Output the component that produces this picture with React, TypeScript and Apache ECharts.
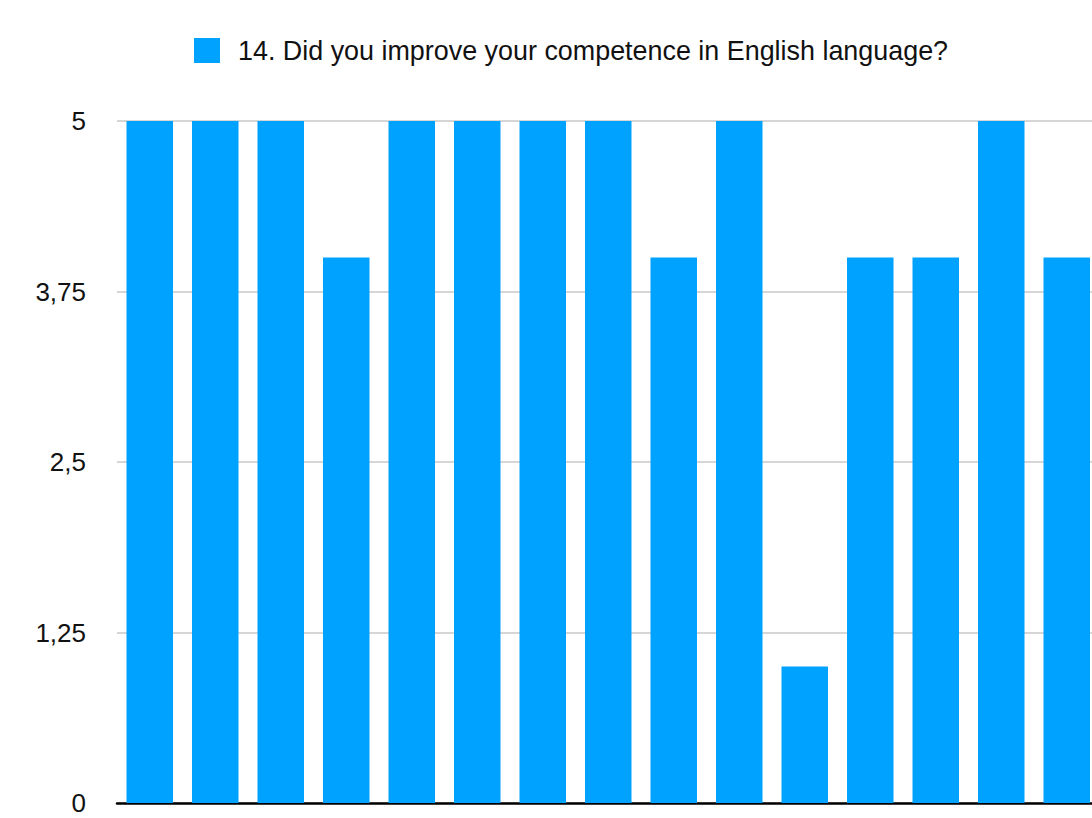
import React, { useEffect, useRef } from "react";
import * as echarts from "echarts";

const categories = ["1","2","3","4","5","6","7","8","9","10","11","12","13","14","15"];
const seriesName = "14. Did you improve your competence in English language?";
const values = [5, 5, 5, 4, 5, 5, 5, 5, 4, 5, 1, 4, 4, 5, 4];
const yTicks = [0, 1.25, 2.5, 3.75, 5];

export default function App() {
  const ref = useRef<HTMLDivElement>(null);
  useEffect(() => {
    const chart = echarts.init(ref.current!, null, { renderer: "svg" });
    chart.setOption({
      animation: false,
      textStyle: { fontFamily: "Liberation Sans, Arial, sans-serif" },
      legend: {
        left: 189,
        top: 32,
        itemWidth: 26,
        itemHeight: 25,
        icon: "rect",
        textStyle: { fontSize: 26.9, color: "#111", padding: [0, 0, 0, 13] },
        data: [seriesName],
      },
      grid: { left: 117, top: 121, right: 0.5, bottom: 15, containLabel: false },
      xAxis: {
        type: "category",
        data: categories,
        axisLine: { show: true, lineStyle: { color: "#000", width: 2.5 } },
        axisTick: { show: false },
        axisLabel: { show: false },
        splitLine: { show: false },
      },
      yAxis: {
        type: "value",
        min: yTicks[0],
        max: yTicks[yTicks.length - 1],
        interval: yTicks[1] - yTicks[0],
        axisLine: { show: false },
        axisTick: { show: false },
        axisLabel: {
          fontSize: 26,
          color: "#111",
          margin: 31,
          formatter: (v: number) => String(v).replace(".", ","),
        },
        splitLine: { show: true, lineStyle: { color: "#c8c8c8", width: 1.5 } },
      },
      series: [
        {
          name: seriesName,
          type: "bar",
          data: values,
          barCategoryGap: "29%",
          itemStyle: { color: "#00a2ff" },
        },
      ],
    });
    return () => chart.dispose();
  }, []);
  return (
    <div style={{ position: "fixed", left: 0, top: 0, width: 1092, height: 818, overflow: "hidden", background: "#fff" }}>
      <div ref={ref} style={{ width: 1100, height: 818 }} />
    </div>
  );
}
